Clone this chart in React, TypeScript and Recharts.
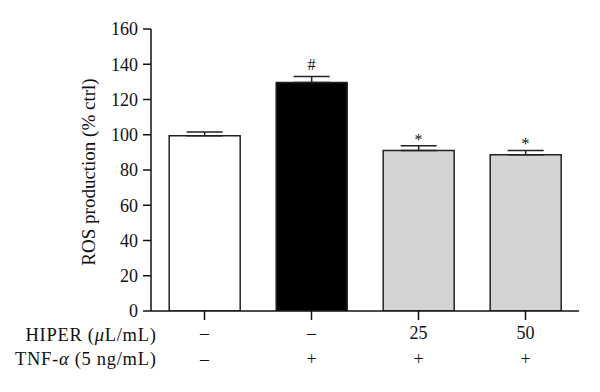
import React from 'react';
import { ComposedChart, Bar, XAxis, YAxis, ErrorBar, Scatter, Cell } from 'recharts';

const groups = ['ctrl', 'tnf', 'hiper25', 'hiper50'];
const values = [99.5, 129.6, 91.0, 88.7];
const errors = [2.0, 3.4, 2.7, 2.4];
const hiperRow = ['–', '–', '25', '50'];
const tnfRow = ['–', '+', '+', '+'];
const marks = ['', '#', '*', '*'];
const barFills = ['#ffffff', '#000000', '#d4d4d4', '#d4d4d4'];
const yTicks = [0, 20, 40, 60, 80, 100, 120, 140, 160];

const data = groups.map((g, i) => ({
  name: g,
  value: values[i],
  err: [0, errors[i]],
  top: values[i] + errors[i],
  mark: marks[i],
}));

const FONT = '"Liberation Serif", "Times New Roman", serif';

const XTick = (props: any) => {
  const { x, y, index } = props;
  return (
    <g>
      <text x={x} y={y + 19} textAnchor="middle" fontFamily={FONT} fontSize={18} fill="#111">{hiperRow[index]}</text>
      <text x={x} y={y + 45} textAnchor="middle" fontFamily={FONT} fontSize={18} fill="#111">{tnfRow[index]}</text>
      {index === 0 && (
        <g>
          <text x={x - 48} y={y + 21} textAnchor="end" fontFamily={FONT} fontSize={18.5} letterSpacing={0.7} fill="#111">
            HIPER (<tspan fontStyle="italic">μ</tspan>L/mL)
          </text>
          <text x={x - 48} y={y + 45} textAnchor="end" fontFamily={FONT} fontSize={18.5} letterSpacing={0.7} fill="#111">
            TNF-<tspan fontStyle="italic">α</tspan> (5 ng/mL)
          </text>
        </g>
      )}
    </g>
  );
};

const MarkShape = (props: any) => {
  const { cx, cy, payload } = props;
  if (!payload || !payload.mark) return <g />;
  const off = payload.mark === '#' ? 7 : 1;
  return (
    <text x={cx} y={cy - off} textAnchor="middle" fontFamily={FONT} fontSize={16} fill="#111">{payload.mark}</text>
  );
};

export default function App() {
  return (
    <div style={{ position: 'absolute', left: 0, top: 0, width: 600, height: 392, background: '#fff' }}>
      <ComposedChart
        width={600}
        height={392}
        data={data}
        margin={{ top: 29, right: 21, left: 0, bottom: 0 }}
        barCategoryGap="17%"
      >
        <XAxis
          dataKey="name"
          height={81}
          tickSize={9}
          tickMargin={0}
          tick={<XTick />}
          axisLine={{ stroke: '#111', strokeWidth: 1.5 }}
          tickLine={{ stroke: '#111', strokeWidth: 1.5 }}
          interval={0}
        />
        <YAxis
          width={151}
          domain={[0, 160]}
          ticks={yTicks}
          tickSize={8}
          tickMargin={5}
          axisLine={{ stroke: '#111', strokeWidth: 1.5 }}
          tickLine={{ stroke: '#111', strokeWidth: 1.5 }}
          tick={{ fontFamily: FONT, fontSize: 18, fill: '#111' }}
          allowDataOverflow
          label={{
            value: 'ROS production (% ctrl)',
            angle: -90,
            position: 'center',
            dx: 13,
            dy: 2,
            style: { fontFamily: FONT, fontSize: 19, fill: '#111' },
          }}
        />
        <Bar dataKey="value" isAnimationActive={false} stroke="#222" strokeWidth={1.5}>
          {data.map((d, i) => (
            <Cell key={d.name} fill={barFills[i]} />
          ))}
          <ErrorBar dataKey="err" width={18} stroke="#222" strokeWidth={1.5} direction="y" />
        </Bar>
        <Scatter dataKey="top" isAnimationActive={false} shape={<MarkShape />} />
      </ComposedChart>
    </div>
  );
}
